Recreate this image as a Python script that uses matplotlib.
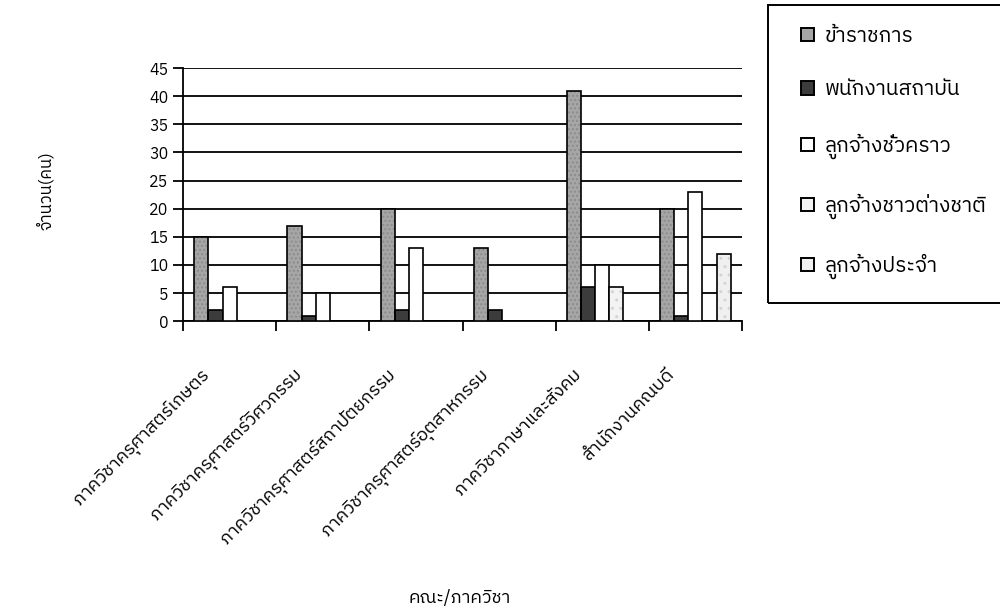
import numpy as np
import matplotlib
matplotlib.use("Agg")
import matplotlib.pyplot as plt
from matplotlib import font_manager
from matplotlib.ft2font import FT2Font
import matplotlib.transforms as mtransforms

categories = ["ภาควิชาครุศาสตร์เกษตร", "ภาควิชาครุศาสตร์วิศวกรรม",
              "ภาควิชาครุศาสตร์สถาปัตยกรรม", "ภาควิชาครุศาสตร์อุตสาหกรรม",
              "ภาควิชาภาษาและสังคม", "สำนักงานคณบดี"]
series_names = ["ข้าราชการ", "พนักงานสถาบัน", "ลูกจ้างชั่วคราว",
                "ลูกจ้างชาวต่างชาติ", "ลูกจ้างประจำ"]
kharatchakan = [15, 17, 20, 13, 41, 20]
phanakngan = [2, 1, 2, 2, 6, 1]
chuakhrao = [6, 5, 13, 0, 10, 23]
tangchat = [0, 0, 0, 0, 6, 0]
pracham = [0, 0, 0, 0, 0, 12]
values = [kharatchakan, phanakngan, chuakhrao, tangchat, pracham]

# find a font that has Thai glyphs
thai_font = None
for f in font_manager.fontManager.ttflist:
    try:
        if 0x0E01 in FT2Font(f.fname).get_charmap():
            thai_font = f.name
            if "Sans" in f.name:
                break
    except Exception:
        pass
fams = [thai_font, "DejaVu Sans"] if thai_font else ["DejaVu Sans"]
plt.rcParams['font.family'] = fams
plt.rcParams['hatch.linewidth'] = 1.0

fig = plt.figure(figsize=(10, 6.14), dpi=100)
ax = fig.add_axes([0.183, 0.477, 0.559, 0.412])

colors = ["#a6a6a6", "#3c3c3c", "#ffffff", "#f3f3f3", "#f0f0f0"]
hatches = ["....", None, None, "..", ".."]
hatch_cols = ["#8c8c8c", None, None, "#d4d4d4", "#d4d4d4"]
w = 0.152
start = 0.12
x = np.arange(len(categories))
handles = []
for i, (name, vals) in enumerate(zip(series_names, values)):
    xs = x + start + w * i
    if hatches[i]:
        ax.bar(xs, vals, width=w, align="edge", color=colors[i],
               edgecolor=hatch_cols[i], hatch=hatches[i], linewidth=0, zorder=3)
        ax.bar(xs, vals, width=w, align="edge", fill=False,
               edgecolor="black", linewidth=1.2, zorder=4)
    else:
        ax.bar(xs, vals, width=w, align="edge", color=colors[i],
               edgecolor="black", linewidth=1.2, zorder=3)
    handles.append(plt.Rectangle((0, 0), 1, 1, facecolor=colors[i], edgecolor="black",
                                 linewidth=1.4, label=name))

ax.set_xlim(0, len(categories))
ax.set_ylim(0, 45)
ax.set_yticks(np.arange(0, 46, 5))
ax.yaxis.grid(True, color="black", linewidth=1.3, zorder=0)
ax.set_axisbelow(True)
ax.set_xticks(np.arange(0, len(categories) + 1))
ax.set_xticklabels([])
for s in ["top", "right"]:
    ax.spines[s].set_visible(False)
ax.spines["left"].set_linewidth(1.3)
ax.spines["bottom"].set_linewidth(1.3)
ax.tick_params(axis="y", direction="out", length=7, width=1.3, labelsize=11.5)
ax.tick_params(axis="x", direction="out", length=7, width=1.3)

# rotated category labels
for i, lab in enumerate(categories):
    tr = ax.get_xaxis_transform() + mtransforms.ScaledTranslation(-0.30, -0.44, fig.dpi_scale_trans)
    ax.text(i + 0.5, 0, lab, rotation=45, ha="right", va="top",
            rotation_mode="anchor", transform=tr, fontsize=13)

fig.text(0.46, 0.026, "คณะ/ภาควิชา", ha="center", va="center", fontsize=13)
fig.text(0.045, 0.69, "จำนวน(คน)", rotation=90, ha="center", va="center", fontsize=12)

# legend box
box = plt.Rectangle((0.768, 0.507), 0.25, 0.485, transform=fig.transFigure,
                    fill=False, edgecolor="black", linewidth=1.4)
fig.patches.append(box)
leg = fig.legend(handles=handles, loc="upper left", bbox_to_anchor=(0.801, 0.956),
                 bbox_transform=fig.transFigure, frameon=False, fontsize=15,
                 handlelength=0.6, handleheight=0.6, handletextpad=0.55,
                 labelspacing=1.65, borderpad=0, borderaxespad=0)

fig.savefig("out.png", dpi=100)
